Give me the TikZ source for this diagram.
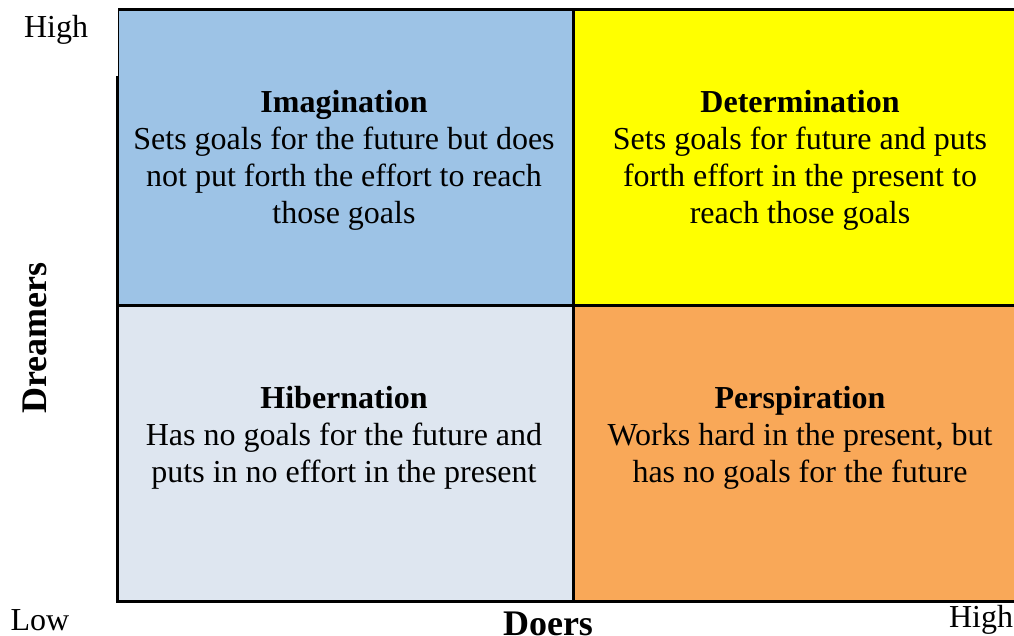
\documentclass[tikz,border=0pt]{standalone}
\usepackage{fontspec}
\setmainfont{Liberation Serif}
\usetikzlibrary{positioning}
\definecolor{imagblue}{RGB}{157,195,230}
\definecolor{deteryellow}{RGB}{255,255,0}
\definecolor{hiberblue}{RGB}{222,230,240}
\definecolor{persporange}{RGB}{249,168,88}

\begin{document}
\begin{tikzpicture}[x=1pt, y=-1pt,
    quad/.style={rectangle, draw=black, line width=2.5pt, inner sep=0pt,
                 minimum width=456pt, minimum height=296pt, anchor=north west},
    quadtext/.style={align=center, inner sep=0pt, anchor=north,
                     font=\fontsize{32}{37}\selectfont},
    axislabel/.style={font=\fontsize{32}{37}\selectfont},
    axistitle/.style={font=\fontsize{36}{40}\selectfont\bfseries}]
            \useasboundingbox (0,0) rectangle (1014,635);

            % four quadrants
            \node[quad, fill=imagblue]    at (116, 8)   (imag)  {};
            \node[quad, fill=deteryellow] at (572, 8)   (deter) {};
            \node[quad, fill=hiberblue]   at (116, 304) (hiber) {};
            \node[quad, fill=persporange] at (572, 304) (persp) {};
            \fill[white] (113, 6) rectangle (117.5, 76);

            % quadrant texts
            \node[quadtext] at (344, 90)  (imagtxt)  {\textbf{Imagination}\\Sets goals for the future but does\\not put forth the effort to reach\\those goals};
            \node[quadtext] at (800, 90)  (detertxt) {\textbf{Determination}\\Sets goals for future and puts\\forth effort in the present to\\reach those goals};
            \node[quadtext] at (344, 386) (hibertxt) {\textbf{Hibernation}\\Has no goals for the future and\\puts in no effort in the present};
            \node[quadtext] at (800, 386) (persptxt) {\textbf{Perspiration}\\Works hard in the present, but\\has no goals for the future};

            % axes
            \node[axislabel] at (56, 30)   (dreamhigh) {High};
            \node[axislabel] at (40, 620)  (low)       {Low};
            \node[axislabel] at (981, 620) (doerhigh)  {High};
            \node[axistitle] at (548, 624) (doers)     {Doers};
            \node[axistitle, rotate=90] at (35, 338) (dreamers) {Dreamers};
        \end{tikzpicture}
\end{document}
